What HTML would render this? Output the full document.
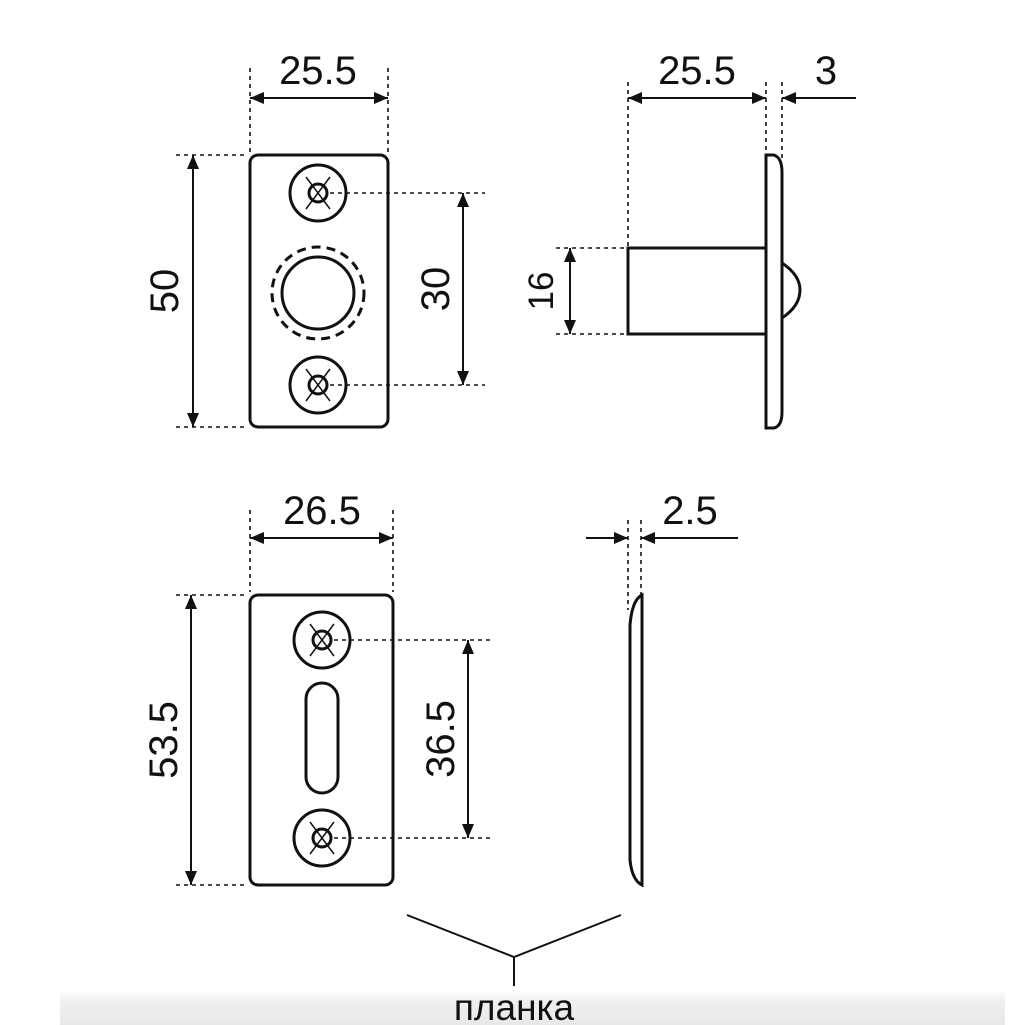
<!DOCTYPE html>
<html><head><meta charset="utf-8"><style>
html,body{margin:0;padding:0;background:#fff;}
svg{display:block}
text{font-family:"Liberation Sans",sans-serif;fill:#111;}
</style></head><body>
<svg width="1025" height="1025" viewBox="0 0 1025 1025" xmlns="http://www.w3.org/2000/svg">
<defs>
<linearGradient id="g" x1="0" y1="0" x2="0" y2="1"><stop offset="0" stop-color="#fff"/><stop offset="0.3" stop-color="#f0f0f0"/><stop offset="1" stop-color="#e8e8e8"/></linearGradient>
<marker id="a" viewBox="0 0 14 12" refX="14" refY="6" markerWidth="14" markerHeight="12" markerUnits="userSpaceOnUse" orient="auto-start-reverse"><path d="M0,0 L14,6 L0,12 Z" fill="#111"/></marker>
</defs>
<rect x="60" y="990" width="945" height="35" fill="url(#g)"/>
<g stroke="#111" fill="none">
<g stroke-width="1.6" stroke-dasharray="4,4">
<line x1="250" y1="68" x2="250" y2="152"/><line x1="388" y1="68" x2="388" y2="152"/>
<line x1="176" y1="155" x2="248" y2="155"/><line x1="176" y1="427" x2="248" y2="427"/>
<line x1="330" y1="193" x2="485" y2="193"/><line x1="330" y1="385" x2="485" y2="385"/>
<line x1="628" y1="82" x2="628" y2="248"/><line x1="766" y1="82" x2="766" y2="155"/><line x1="782" y1="82" x2="782" y2="160"/>
<line x1="556" y1="248" x2="626" y2="248"/><line x1="556" y1="334" x2="626" y2="334"/>
<line x1="250" y1="510" x2="250" y2="592"/><line x1="393" y1="510" x2="393" y2="592"/>
<line x1="176" y1="595" x2="248" y2="595"/><line x1="176" y1="885" x2="248" y2="885"/>
<line x1="334" y1="640" x2="490" y2="640"/><line x1="334" y1="838" x2="490" y2="838"/>
<line x1="628" y1="520" x2="628" y2="610"/><line x1="641" y1="520" x2="641" y2="597"/>
</g>
<g stroke-width="2">
<line x1="250" y1="98" x2="388" y2="98" marker-start="url(#a)" marker-end="url(#a)"/>
<line x1="193" y1="155" x2="193" y2="427" marker-start="url(#a)" marker-end="url(#a)"/>
<line x1="463" y1="193" x2="463" y2="385" marker-start="url(#a)" marker-end="url(#a)"/>
<line x1="628" y1="98" x2="766" y2="98" marker-start="url(#a)" marker-end="url(#a)"/>
<line x1="856" y1="98" x2="782" y2="98" marker-end="url(#a)"/>
<line x1="570" y1="248" x2="570" y2="334" marker-start="url(#a)" marker-end="url(#a)"/>
<line x1="250" y1="538" x2="393" y2="538" marker-start="url(#a)" marker-end="url(#a)"/>
<line x1="191" y1="595" x2="191" y2="885" marker-start="url(#a)" marker-end="url(#a)"/>
<line x1="468" y1="640" x2="468" y2="838" marker-start="url(#a)" marker-end="url(#a)"/>
<line x1="586" y1="538" x2="628" y2="538" marker-end="url(#a)"/>
<line x1="738" y1="538" x2="641" y2="538" marker-end="url(#a)"/>
<polyline points="407,915 514,957 621,915" stroke-width="2"/>
<line x1="514" y1="957" x2="514" y2="986"/>
</g>
<g stroke-width="3">
<rect x="250" y="155" width="138" height="272" rx="8"/>
<circle cx="318" cy="193" r="28"/><circle cx="318" cy="193" r="9"/>
<circle cx="318" cy="385" r="28"/><circle cx="318" cy="385" r="9"/>
<circle cx="318" cy="293" r="36"/>
<circle cx="318" cy="293" r="46" stroke-dasharray="9,6"/>
<rect x="628" y="248" width="138" height="86"/>
<path d="M766,155 L774,155 Q782,158 782,172 L782,412 Q782,426 774,428 L766,428 Z"/>
<path d="M782,263 Q800,275 800,290 Q800,306 782,318"/>
<rect x="250" y="595" width="143" height="290" rx="8"/>
<circle cx="322" cy="640" r="28"/><circle cx="322" cy="640" r="9"/>
<circle cx="322" cy="838" r="28"/><circle cx="322" cy="838" r="9"/>
<rect x="306" y="683" width="32" height="110" rx="16"/>
<path d="M642,595 L642,885 Q632,880 630,860 L630,625 Q632,600 642,595 Z"/>
</g>
<g stroke-width="1.5">
<line x1="306" y1="177" x2="330" y2="209"/><line x1="330" y1="177" x2="306" y2="209"/>
<line x1="306" y1="369" x2="330" y2="401"/><line x1="330" y1="369" x2="306" y2="401"/>
<line x1="310" y1="624" x2="334" y2="656"/><line x1="334" y1="624" x2="310" y2="656"/>
<line x1="310" y1="822" x2="334" y2="854"/><line x1="334" y1="822" x2="310" y2="854"/>
</g>
</g>
<g font-size="40">
<text x="318" y="84" text-anchor="middle">25.5</text>
<text x="697" y="84" text-anchor="middle">25.5</text>
<text x="826" y="84" text-anchor="middle">3</text>
<text x="322" y="524" text-anchor="middle">26.5</text>
<text x="690" y="524" text-anchor="middle">2.5</text>
<text transform="translate(178,291) rotate(-90)" text-anchor="middle">50</text>
<text transform="translate(449,289) rotate(-90)" text-anchor="middle">30</text>
<text transform="translate(553,291) rotate(-90)" text-anchor="middle" font-size="35">16</text>
<text transform="translate(177,740) rotate(-90)" text-anchor="middle">53.5</text>
<text transform="translate(454,739) rotate(-90)" text-anchor="middle">36.5</text>
<text x="514" y="1020" text-anchor="middle" font-size="37">планка</text>
</g>
</svg>
</body></html>
